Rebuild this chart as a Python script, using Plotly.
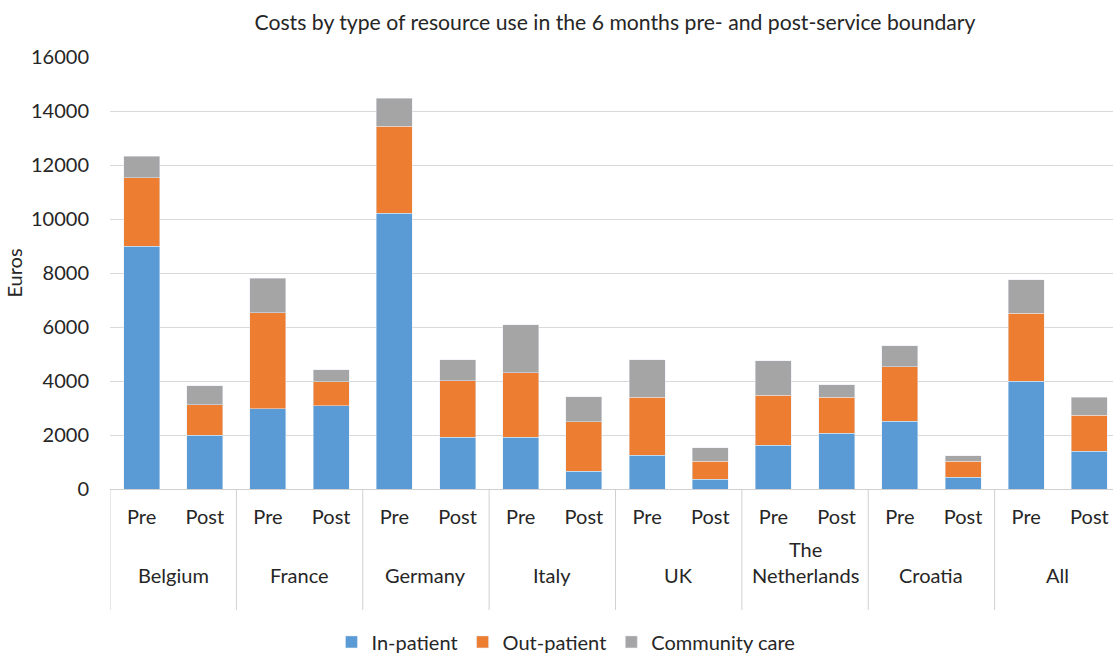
import plotly.graph_objects as go

countries = ["Belgium", "France", "Germany", "Italy", "UK", "The<br>Netherlands", "Croatia", "All"]
periods = ["Pre", "Post"]

# values per country, [Pre, Post] (top of each stacked segment)
in_patient = [9000, 2000, 2980, 3090, 10220, 1920, 1910, 650, 1250, 360, 1620, 2060, 2510, 430, 3990, 1400]
out_patient_top = [11520, 3120, 6520, 3980, 13440, 4010, 4310, 2490, 3390, 1020, 3470, 3400, 4530, 1020, 6510, 2730]
total_top = [12330, 3820, 7810, 4410, 14470, 4780, 6090, 3420, 4790, 1530, 4750, 3860, 5310, 1230, 7750, 3400]

out_patient = [o - i for o, i in zip(out_patient_top, in_patient)]
community = [t - o for t, o in zip(total_top, out_patient_top)]

x_keys = [f"{c}|{p}" for c in countries for p in periods]
x_text = [p for _ in countries for p in periods]

font_family = "Lato, 'Open Sans', sans-serif"
text_color = "#262626"
line_color = "#D0D0D0"

fig = go.Figure()
fig.add_trace(go.Bar(x=x_keys, y=in_patient, name="In-patient", marker_color="#5B9BD5"))
fig.add_trace(go.Bar(x=x_keys, y=out_patient, name="Out-patient", marker_color="#ED7D31"))
fig.add_trace(go.Bar(x=x_keys, y=community, name="Community care", marker_color="#A5A5A5"))

n = len(periods)
annotations = []
shapes = []
for gi, c in enumerate(countries):
    center = gi * n + (n - 1) / 2
    two_line = "<br>" in c
    annotations.append(dict(
        x=center, y=-0.199, xref="x", yref="paper",
        text=c, showarrow=False, xanchor="center", yanchor="middle",
        yshift=13 if two_line else 0,
        font=dict(size=20, color=text_color, family=font_family),
    ))
    shapes.append(dict(
        type="line", xref="x", yref="paper",
        x0=gi * n - 0.5, x1=gi * n - 0.5, y0=0, y1=-0.28,
        line=dict(color=line_color, width=1),
    ))

# the original plot area runs slightly past the right edge of the 1113px image
FIG_W = 1121

fig.update_layout(
    barmode="stack",
    bargap=0.43,
    width=FIG_W,
    height=653,
    paper_bgcolor="white",
    plot_bgcolor="white",
    margin=dict(l=110, r=0, t=57, b=164),
    font=dict(family=font_family, color=text_color, size=20),
    title=dict(
        text="Costs by type of resource use in the 6 months pre- and post-service boundary",
        x=615 / FIG_W, xanchor="center", y=0.966, yanchor="middle",
        font=dict(size=21.2, color=text_color, family=font_family),
    ),
    legend=dict(
        orientation="h", x=0.451, xanchor="center",
        yref="container", y=0.017, yanchor="middle",
        font=dict(size=20, color=text_color), traceorder="normal",
        itemwidth=30,
    ),
    annotations=annotations,
    shapes=shapes,
    yaxis=dict(
        range=[0, 16000], dtick=2000, tickformat="d",
        showgrid=True, gridcolor="#D9D9D9", gridwidth=1,
        zeroline=False, showline=False, automargin=False,
        ticks="", ticklabelstandoff=20,
        title=dict(text="Euros", font=dict(size=20), standoff=3),
        tickfont=dict(size=20),
    ),
    xaxis=dict(
        type="category",
        tickvals=x_keys, ticktext=x_text,
        range=[-0.5, len(x_keys) - 0.5],
        showline=True, linecolor=line_color, linewidth=1,
        showgrid=False, automargin=False,
        ticks="", ticklabelstandoff=10,
        tickfont=dict(size=20),
    ),
)

post = (
    "document.documentElement.style.margin='0';"
    "document.documentElement.style.overflow='hidden';"
    "document.body.style.margin='0';"
    "document.body.style.overflow='hidden';"
    "var gd=document.getElementById('{plot_id}');"
    "var wrap=gd.parentElement;"
    "wrap.style.position='absolute';wrap.style.top='0px';wrap.style.left='0px';"
    "wrap.style.width='1113px';wrap.style.height='653px';wrap.style.overflow='hidden';"
    "gd.style.position='absolute';gd.style.top='0px';gd.style.left='0px';"
)

fig.write_html("out.html", config={"displayModeBar": False}, post_script=post)
